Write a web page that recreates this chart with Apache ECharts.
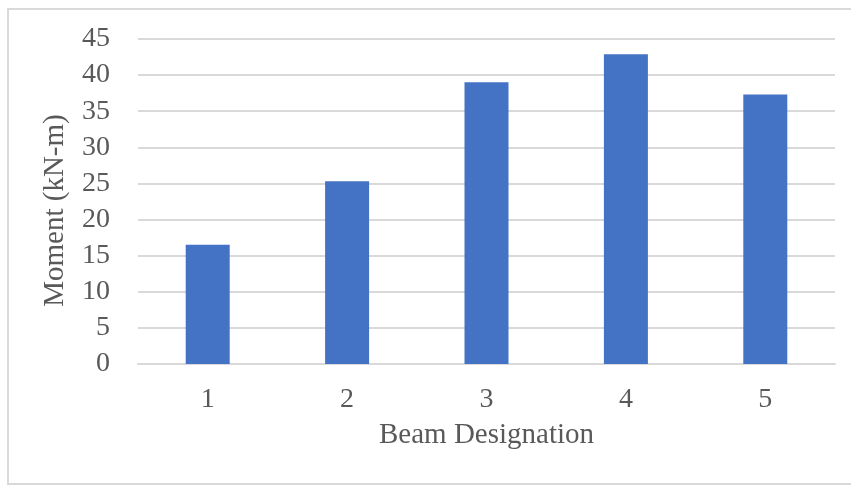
<!DOCTYPE html>
<html>
<head>
<meta charset="utf-8">
<script src="https://cdn.jsdelivr.net/npm/echarts@6/dist/echarts.min.js"></script>
<style>
html,body{margin:0;padding:0;background:#fff;}
#c{width:851px;height:486px;}
</style>
</head>
<body>
<div id="c"></div>
<script>
const categories = ['1', '2', '3', '4', '5'];
const moments = [16.5, 25.3, 39.0, 42.9, 37.3];
const yTicks = { min: 0, max: 45, interval: 5 };

const font = '"Liberation Serif", "Times New Roman", serif';
const chart = echarts.init(document.getElementById('c'), null, { renderer: 'canvas' });
chart.setOption({
  backgroundColor: '#ffffff',
  animation: false,
  graphic: [{
    type: 'rect',
    shape: { x: 8, y: 9, width: 900, height: 475 },
    style: { fill: 'none', stroke: '#d9d9d9', lineWidth: 2 },
    silent: true
  }],
  grid: { left: 138, right: 16, top: 39, bottom: 122 },
  xAxis: {
    type: 'category',
    data: categories,
    axisTick: { show: false },
    axisLine: { lineStyle: { color: '#d9d9d9', width: 2 } },
    axisLabel: { color: '#595959', fontFamily: font, fontSize: 28, margin: 22 },
    name: 'Beam Designation',
    nameLocation: 'middle',
    nameGap: 57,
    nameTextStyle: { color: '#595959', fontFamily: font, fontSize: 29 }
  },
  yAxis: {
    type: 'value',
    min: yTicks.min,
    max: yTicks.max,
    interval: yTicks.interval,
    axisLine: { show: false },
    axisTick: { show: false },
    splitLine: { lineStyle: { color: '#d9d9d9', width: 2 } },
    axisLabel: { color: '#595959', fontFamily: font, fontSize: 28, margin: 28 },
    name: 'Moment (kN-m)',
    nameLocation: 'middle',
    nameGap: 68,
    nameTextStyle: { color: '#595959', fontFamily: font, fontSize: 29, padding: [0, 18, 0, 0] }
  },
  series: [{
    type: 'bar',
    data: moments,
    barWidth: 44,
    itemStyle: { color: '#4472C4' }
  }]
});
</script>
</body>
</html>
